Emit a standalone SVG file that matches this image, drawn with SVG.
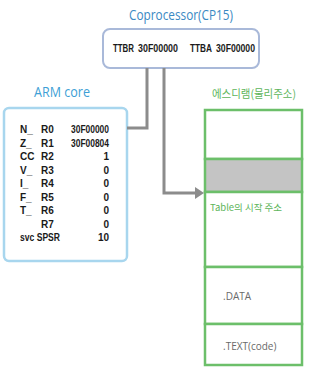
<svg xmlns="http://www.w3.org/2000/svg" width="321" height="375" viewBox="0 0 321 375">
<style>
.reg{font-family:"Liberation Sans",Arial,sans-serif;font-size:10px;font-weight:bold;fill:#1a1a1a}
.num{font-family:"Liberation Sans",Arial,sans-serif;font-size:10px;font-weight:bold;fill:#1a1a1a;text-anchor:end}
.title{font-family:"Open Sans","Liberation Sans",sans-serif}
.mem{fill:#ffffff;stroke:#6cbf6a;stroke-width:2.5}
.conn{fill:none;stroke:#8c8c8c;stroke-width:3}
.seg{font-family:"Open Sans","Liberation Sans",sans-serif;font-size:10px;fill:#6a6a6a}
</style>
<defs>
<marker id="arr" markerWidth="4" markerHeight="4" refX="1" refY="2" orient="auto" markerUnits="strokeWidth">
<path d="M0,0 L3,2 L0,4 Z" fill="#8c8c8c"/>
</marker>
</defs>
<rect width="321" height="375" fill="#ffffff"/>

<g id="coprocessor">
<text class="title" x="181" y="20" font-size="15" fill="#3a89c3" text-anchor="middle" textLength="104" lengthAdjust="spacingAndGlyphs">Coprocessor(CP15)</text>
<rect x="103" y="29" width="156" height="39" rx="7" fill="#ffffff" stroke="#a9b9d9" stroke-width="2"/>
<text class="reg" x="113" y="52" textLength="21" lengthAdjust="spacingAndGlyphs">TTBR</text>
<text class="reg" x="138" y="52" textLength="40" lengthAdjust="spacingAndGlyphs">30F00000</text>
<text class="reg" x="190" y="52" textLength="22" lengthAdjust="spacingAndGlyphs">TTBA</text>
<text class="reg" x="216" y="52" textLength="39" lengthAdjust="spacingAndGlyphs">30F00000</text>
</g>

<g id="arm-core">
<text class="title" x="62" y="97" font-size="14" fill="#3d9fd6" text-anchor="middle" textLength="56" lengthAdjust="spacingAndGlyphs">ARM core</text>
<rect x="4" y="108" width="123" height="153" rx="5" fill="#ffffff" stroke="#a8d6ee" stroke-width="2.5"/>
<text class="reg" x="20" y="133">N_</text><text class="reg" x="41" y="133">R0</text><text class="num" x="109" y="133" textLength="38" lengthAdjust="spacingAndGlyphs">30F00000</text>
<text class="reg" x="20" y="146.5">Z_</text><text class="reg" x="41" y="146.5">R1</text><text class="num" x="109" y="146.5" textLength="38" lengthAdjust="spacingAndGlyphs">30F00804</text>
<text class="reg" x="20" y="160">CC</text><text class="reg" x="41" y="160">R2</text><text class="num" x="109" y="160">1</text>
<text class="reg" x="20" y="173.5">V_</text><text class="reg" x="41" y="173.5">R3</text><text class="num" x="109" y="173.5">0</text>
<text class="reg" x="20" y="187">I_</text><text class="reg" x="41" y="187">R4</text><text class="num" x="109" y="187">0</text>
<text class="reg" x="20" y="200.5">F_</text><text class="reg" x="41" y="200.5">R5</text><text class="num" x="109" y="200.5">0</text>
<text class="reg" x="20" y="214">T_</text><text class="reg" x="41" y="214">R6</text><text class="num" x="109" y="214">0</text>
<text class="reg" x="41" y="227.5">R7</text><text class="num" x="109" y="227.5">0</text>
<text class="reg" x="20" y="241" textLength="40" lengthAdjust="spacingAndGlyphs">svc SPSR</text><text class="num" x="109" y="241">10</text>
</g>

<g id="sdram">
<text x="254" y="98" font-family="'Noto Sans CJK KR','Noto Sans',sans-serif" font-size="11" fill="#5db55b" text-anchor="middle" textLength="84" lengthAdjust="spacingAndGlyphs">에스디램(물리주소)</text>
<rect class="mem" x="205" y="110" width="97" height="49"/>
<rect x="205" y="159" width="97" height="33" fill="#c4c4c4" stroke="#6cbf6a" stroke-width="2.5"/>
<rect class="mem" x="205" y="192" width="97" height="75"/>
<text x="210" y="211" font-family="'Noto Sans CJK KR','Noto Sans',sans-serif" font-size="9.5" fill="#5db55b">Table의 시작 주소</text>
<rect class="mem" x="205" y="267" width="97" height="57"/>
<text class="seg" x="223" y="300">.DATA</text>
<rect class="mem" x="205" y="324" width="97" height="41"/>
<text class="seg" x="223" y="350">.TEXT(code)</text>
</g>

<g id="connectors">
<path class="conn" d="M147 68 V128 H127"/>
<path class="conn" d="M164 68 V193 H198" marker-end="url(#arr)"/>
</g>
</svg>
